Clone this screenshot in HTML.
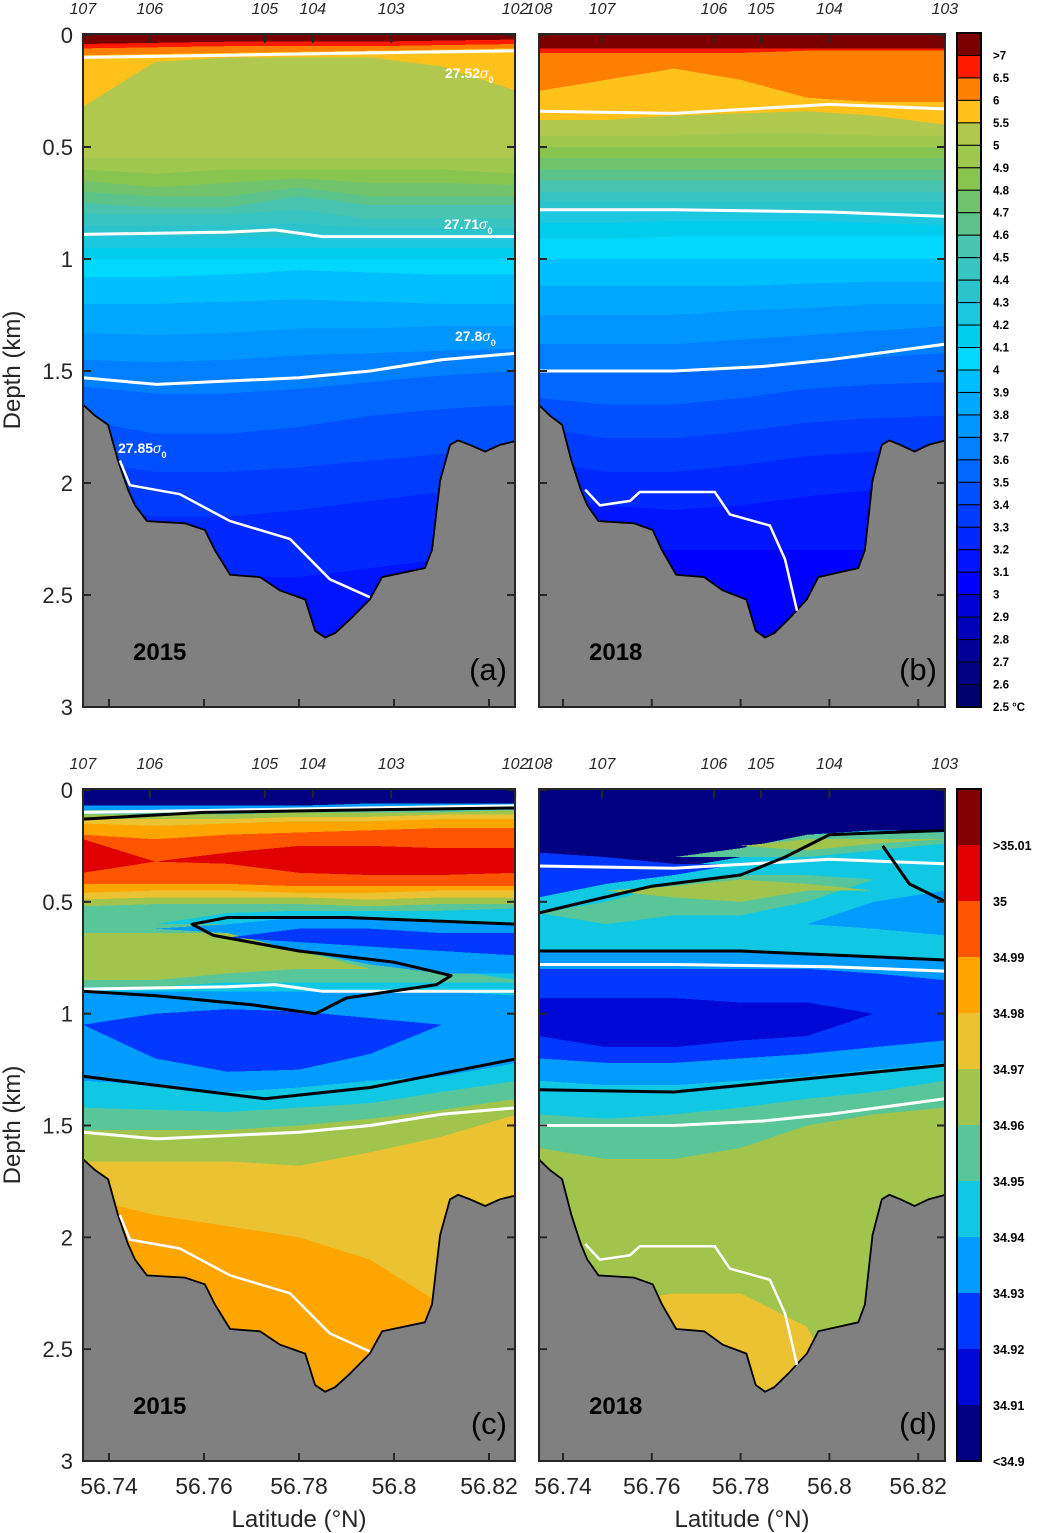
<!DOCTYPE html>
<html><head><meta charset="utf-8"><style>
html,body{margin:0;padding:0;background:#fff;}
svg{display:block;font-family:"Liberation Sans","DejaVu Sans",sans-serif;}
</style></head><body>
<svg id="fig" width="1045" height="1533" viewBox="0 0 1045 1533" xmlns="http://www.w3.org/2000/svg"></svg>
<script>
// ---------- data ----------
const nodeLats = [56.7345,56.7497,56.765,56.78,56.795,56.81,56.826];
const depthTicks = [0,0.5,1,1.5,2,2.5,3];
const depthTickLabels = ['0','0.5','1','1.5','2','2.5','3'];
const latTicks = [56.74,56.76,56.78,56.8,56.82];
const latTickLabels = ['56.74','56.76','56.78','56.8','56.82'];
const stations2015 = ['107','106','105','104','103','102'];
const stationLats2015 = [56.7345,56.7486,56.7728,56.7829,56.7994,56.8255];
const stations2018 = ['108','107','106','105','104','103'];
const stationLats2018 = [56.7346,56.7488,56.774,56.7846,56.80,56.826];
const bathyLats = [56.7345,56.7371,56.7398,56.7419,56.7440,56.7455,56.7480,56.7560,56.7602,56.7623,56.7655,56.7718,56.7760,56.7813,56.7834,56.7855,56.7876,56.7907,56.7949,56.7975,56.8065,56.8080,56.8097,56.8118,56.8135,56.8160,56.8192,56.8223,56.8262];
const bathyDepths = [1.65,1.70,1.74,1.90,2.03,2.10,2.17,2.18,2.21,2.30,2.41,2.42,2.48,2.52,2.66,2.69,2.67,2.61,2.52,2.42,2.38,2.30,1.99,1.83,1.81,1.83,1.86,1.83,1.81];
const tempColors = ['#7a0000','#ff1a00','#ff7f00','#ffc11a','#b0c84e','#9ec84e','#87c450','#72c46c','#5cc48a','#48c4b0','#38c4c0','#2cc4cc','#1cc8e0','#00cced','#00d8ff','#00bfff','#00a8ff','#0096ff','#0080ff','#0068ff','#0050ff','#003cff','#0028ff','#0014ff','#0000ff','#0000d8','#0000b8','#000098','#000080','#000070'];
const tempLabels = ['>7','6.5','6','5.5','5','4.9','4.8','4.7','4.6','4.5','4.4','4.3','4.2','4.1','4','3.9','3.8','3.7','3.6','3.5','3.4','3.3','3.2','3.1','3','2.9','2.8','2.7','2.6','2.5 °C'];
const salColors = ['#800000','#e00000','#ff5500','#ffa500','#ebc232','#a0c44c','#58c698','#10c8e4','#009cff','#0038ff','#0008d8','#000080'];
const salLabels = ['>35.01','35','34.99','34.98','34.97','34.96','34.95','34.94','34.93','34.92','34.91','<34.9'];
const isoA = [
[0.04,0.035,0.03,0.03,0.03,0.025,0.02],[0.06,0.055,0.05,0.05,0.05,0.045,0.04],[0.09,0.085,0.08,0.075,0.07,0.065,0.06],
[0.32,0.12,0.1,0.1,0.1,0.14,0.25],[0.55,0.55,0.55,0.55,0.55,0.55,0.55],[0.6,0.62,0.6,0.6,0.6,0.6,0.62],
[0.65,0.68,0.66,0.64,0.66,0.66,0.67],[0.7,0.72,0.72,0.68,0.72,0.72,0.72],[0.75,0.77,0.77,0.72,0.76,0.76,0.76],
[0.8,0.8,0.8,0.78,0.82,0.82,0.82],[0.85,0.85,0.85,0.84,0.86,0.86,0.86],[0.9,0.9,0.9,0.9,0.9,0.9,0.9],
[0.95,0.95,0.95,0.95,0.95,0.95,0.95],[1.0,1.0,1.0,1.0,1.0,1.0,1.0],[1.08,1.08,1.07,1.05,1.06,1.07,1.07],
[1.2,1.2,1.19,1.18,1.19,1.2,1.2],[1.33,1.34,1.33,1.31,1.31,1.3,1.3],[1.45,1.46,1.45,1.43,1.42,1.41,1.4],
[1.57,1.6,1.6,1.58,1.55,1.52,1.5],[1.72,1.78,1.78,1.75,1.7,1.67,1.65],[1.9,1.95,1.95,1.93,1.9,1.87,1.85],
[2.1,2.15,2.15,2.12,2.08,2.04,2.0],[2.3,2.4,2.42,2.42,2.38,2.34,2.3],[3,3,3,3,3,3,3]];
const isoB = [
[0.06,0.06,0.06,0.06,0.06,0.06,0.06],[0.08,0.08,0.08,0.08,0.07,0.07,0.07],[0.25,0.2,0.15,0.2,0.28,0.3,0.3],
[0.38,0.38,0.36,0.35,0.34,0.36,0.4],[0.45,0.45,0.45,0.44,0.44,0.45,0.45],[0.5,0.5,0.5,0.5,0.5,0.5,0.5],
[0.55,0.55,0.55,0.55,0.55,0.55,0.55],[0.6,0.6,0.6,0.6,0.6,0.6,0.6],[0.65,0.65,0.65,0.65,0.65,0.65,0.65],
[0.7,0.7,0.7,0.7,0.7,0.7,0.7],[0.74,0.74,0.74,0.74,0.74,0.74,0.74],[0.78,0.78,0.78,0.78,0.78,0.79,0.8],
[0.84,0.84,0.83,0.83,0.83,0.84,0.85],[0.91,0.91,0.9,0.9,0.9,0.9,0.9],[1.0,1.0,1.0,1.0,1.0,1.0,1.0],
[1.12,1.12,1.12,1.12,1.11,1.1,1.1],[1.25,1.25,1.25,1.23,1.22,1.2,1.2],[1.38,1.38,1.38,1.36,1.34,1.32,1.3],
[1.5,1.5,1.5,1.48,1.46,1.44,1.42],[1.62,1.65,1.65,1.62,1.58,1.56,1.55],[1.75,1.8,1.8,1.77,1.73,1.71,1.7],
[1.9,1.95,1.95,1.92,1.88,1.86,1.85],[2.05,2.1,2.12,2.1,2.06,2.03,2.0],[2.3,2.3,2.3,2.3,2.3,2.3,2.3],[3,3,3,3,3,3,3]];
const cBase = 4;
const cLevels = [11,8,6,5,4,3,2,1,3,4,5,6,7,6,5,8,9,8,9,7,6,5,3];
const cTops = [
[0,0,0,0,0,0,0],[0.07,0.07,0.07,0.07,0.06,0.06,0.06],[0.09,0.09,0.09,0.08,0.08,0.08,0.07],[0.11,0.11,0.11,0.1,0.1,0.1,0.09],
[0.13,0.13,0.13,0.12,0.12,0.11,0.11],[0.15,0.16,0.15,0.14,0.14,0.13,0.13],[0.2,0.22,0.2,0.19,0.18,0.17,0.17],
[0.22,0.32,0.28,0.25,0.25,0.26,0.26],[0.42,0.42,0.42,0.43,0.43,0.43,0.43],[0.46,0.45,0.45,0.46,0.46,0.45,0.45],
[0.49,0.48,0.48,0.48,0.49,0.48,0.48],[0.52,0.51,0.51,0.51,0.52,0.51,0.51],[0.6,0.6,0.55,0.54,0.54,0.54,0.53],
[0.6,0.6,0.6,0.68,0.75,0.8,0.85],[0.64,0.64,0.64,0.72,0.8,0.82,0.85],[0.62,0.62,0.6,0.57,0.58,0.59,0.6],
[0.66,0.66,0.66,0.62,0.62,0.64,0.64],[0.9,0.9,0.9,0.9,0.9,0.9,0.92],[1.05,1.0,0.98,0.99,1.02,1.05,1.05],
[1.3,1.32,1.35,1.33,1.3,1.28,1.22],[1.42,1.43,1.44,1.42,1.4,1.35,1.3],[1.52,1.52,1.52,1.5,1.47,1.43,1.38],
[1.82,1.9,1.95,2.0,2.1,2.3,2.6]];
const cBots = [
[0.07,0.07,0.07,0.07,0.06,0.06,0.06],[0.09,0.09,0.09,0.08,0.08,0.08,0.07],[0.11,0.11,0.11,0.1,0.1,0.1,0.09],
[0.13,0.13,0.13,0.12,0.12,0.11,0.11],[0.15,0.16,0.15,0.14,0.14,0.13,0.13],[0.2,0.22,0.2,0.19,0.18,0.17,0.17],
[0.42,0.42,0.42,0.43,0.43,0.43,0.43],[0.37,0.32,0.33,0.37,0.38,0.38,0.37],[0.46,0.45,0.45,0.46,0.46,0.45,0.45],
[0.49,0.48,0.48,0.48,0.49,0.48,0.48],[0.52,0.51,0.51,0.51,0.52,0.51,0.51],[0.6,0.6,0.55,0.54,0.54,0.54,0.53],
[0.9,0.9,0.9,0.9,0.9,0.9,0.92],[0.88,0.88,0.86,0.86,0.86,0.86,0.86],[0.85,0.85,0.82,0.8,0.8,0.82,0.85],
[0.62,0.62,0.64,0.72,0.78,0.82,0.82],[0.66,0.66,0.66,0.68,0.7,0.72,0.74],[1.3,1.32,1.35,1.33,1.3,1.28,1.22],
[1.05,1.2,1.26,1.25,1.18,1.05,1.05],[1.42,1.43,1.44,1.42,1.4,1.35,1.3],[1.52,1.52,1.52,1.5,1.47,1.43,1.38],
[1.66,1.66,1.66,1.68,1.62,1.55,1.45],[3,3,3,3,3,3,3]];
const dBase = 5;
const dLevels = [7,11,9,6,5,6,5,8,8,9,10,8,7,6,4];
const dTops = [
[0.3,0.3,0.3,0.3,0.2,0.18,0.18],[0,0,0,0,0,0,0],[0.28,0.3,0.33,0.33,0.33,0.33,0.33],[0.3,0.3,0.3,0.26,0.2,0.19,0.19],
[0.25,0.25,0.25,0.25,0.22,0.22,0.22],[0.55,0.5,0.42,0.38,0.38,0.4,0.4],[0.45,0.45,0.43,0.4,0.42,0.45,0.45],
[0.6,0.6,0.6,0.6,0.6,0.5,0.45],[0.72,0.72,0.72,0.72,0.73,0.74,0.76],[0.8,0.8,0.8,0.8,0.8,0.82,0.85],
[0.93,0.93,0.93,0.95,0.95,1.0,1.0],[1.2,1.22,1.22,1.2,1.18,1.15,1.12],[1.3,1.32,1.32,1.3,1.28,1.25,1.22],
[1.45,1.47,1.45,1.42,1.38,1.35,1.3],[2.5,2.3,2.25,2.25,2.4,3,3]];
const dBots = [
[0.72,0.72,0.72,0.72,0.73,0.74,0.76],[0.3,0.33,0.35,0.3,0.2,0.18,0.18],[0.48,0.42,0.38,0.33,0.33,0.33,0.33],[0.3,0.3,0.3,0.3,0.3,0.27,0.24],
[0.25,0.25,0.25,0.25,0.27,0.24,0.22],[0.55,0.6,0.56,0.56,0.5,0.4,0.4],[0.45,0.45,0.48,0.5,0.45,0.45,0.45],
[0.6,0.6,0.6,0.6,0.6,0.62,0.65],[0.8,0.8,0.8,0.8,0.8,0.82,0.85],[1.2,1.22,1.22,1.2,1.18,1.15,1.12],
[1.1,1.15,1.15,1.12,1.1,1.0,1.0],[1.3,1.32,1.32,1.3,1.28,1.25,1.22],[1.45,1.47,1.45,1.42,1.38,1.35,1.3],
[1.6,1.65,1.65,1.6,1.5,1.45,1.42],[3,3,3,3,3,3,3]];
const iso2015Lats = [[56.7345,56.765,56.795,56.8262],[56.7345,56.765,56.775,56.785,56.8262],[56.7345,56.75,56.78,56.795,56.81,56.8262]];
const iso2015Depths = [[0.1,0.09,0.08,0.07],[0.89,0.88,0.87,0.9,0.9],[1.53,1.56,1.53,1.5,1.45,1.42]];
const deep2015Lats = [56.7423,56.7444,56.7549,56.7655,56.7781,56.7865,56.7949];
const deep2015Depths = [1.9,2.01,2.05,2.17,2.25,2.43,2.51];
const iso2018Lats = [[56.7345,56.765,56.80,56.8262],[56.7345,56.765,56.80,56.8262],[56.7345,56.765,56.785,56.80,56.8262]];
const iso2018Depths = [[0.34,0.35,0.31,0.33],[0.78,0.78,0.79,0.81],[1.5,1.5,1.48,1.45,1.38]];
const deep2018Lats = [56.745,56.7483,56.7551,56.7573,56.7742,56.7776,56.7866,56.79,56.7927];
const deep2018Depths = [2.03,2.1,2.08,2.04,2.04,2.14,2.19,2.34,2.57];
const blackCLats = [[56.7345,56.76,56.79,56.8262],
 [56.8262,56.79,56.765,56.7575,56.762,56.78,56.80,56.812,56.809,56.79,56.7835,56.77,56.75,56.7345],
 [56.7345,56.7728,56.795,56.8262]];
const blackCDepths = [[0.13,0.1,0.09,0.08],[0.6,0.57,0.57,0.6,0.65,0.72,0.77,0.83,0.87,0.93,1.0,0.96,0.92,0.9],[1.28,1.38,1.33,1.2]];
const blackDLats = [[56.7345,56.745,56.76,56.78,56.79,56.80,56.8262],[56.812,56.818,56.8262],[56.7345,56.78,56.8262],[56.7345,56.765,56.8262]];
const blackDDepths = [[0.55,0.5,0.43,0.38,0.3,0.2,0.18],[0.25,0.42,0.5],[0.72,0.72,0.76],[1.34,1.35,1.23]];
const yearLabels = ['2015','2018','2015','2018'];
const panelLetters = ['(a)','(b)','(c)','(d)'];

// ---------- helpers ----------
const NS='http://www.w3.org/2000/svg';
const svg=document.getElementById('fig');
function mk(tag,attrs,parent){const e=document.createElementNS(NS,tag);for(const k in attrs)e.setAttribute(k,attrs[k]);(parent||svg).appendChild(e);return e;}
const panels=[
 {key:'a',x0:83,x1:515,y0:35,y1:707,lat0:56.74,px0:109,scale:4750},
 {key:'b',x0:539,x1:945,y0:35,y1:707,lat0:56.74,px0:563,scale:4440},
 {key:'c',x0:83,x1:515,y0:790,y1:1461,lat0:56.74,px0:109,scale:4750},
 {key:'d',x0:539,x1:945,y0:790,y1:1461,lat0:56.74,px0:563,scale:4440}];
function xs(p,lat){return p.px0+(lat-p.lat0)*p.scale;}
function ys(p,d){return p.y0+d*(p.y1-p.y0)/3;}
function bandPath(p,top,bot){let s='';for(let i=0;i<nodeLats.length;i++){s+=(i?'L':'M')+xs(p,nodeLats[i]).toFixed(1)+','+ys(p,top[i]).toFixed(1);}
 for(let i=nodeLats.length-1;i>=0;i--){s+='L'+xs(p,nodeLats[i]).toFixed(1)+','+ys(p,bot[i]).toFixed(1);}return s+'Z';}
function linePath(p,lats,deps){return lats.map((l,i)=>(i?'L':'M')+xs(p,l).toFixed(1)+','+ys(p,deps[i]).toFixed(1)).join('');}
const zeros=nodeLats.map(()=>0);

const defs=mk('defs',{});
panels.forEach(p=>{const cp=mk('clipPath',{id:'clip-'+p.key},defs);mk('rect',{x:p.x0,y:p.y0,width:p.x1-p.x0,height:p.y1-p.y0},cp);});

panels.forEach((p,pi)=>{
 const g=mk('g',{'clip-path':'url(#clip-'+p.key+')','shape-rendering':'crispEdges'});
 
 
 if(p.key==='a'||p.key==='b'){
  const iso=p.key==='a'?isoA:isoB;
  for(let i=0;i<iso.length;i++){
   const el=mk('path',{d:bandPath(p,i?iso[i-1]:zeros,iso[i]),fill:tempColors[i]},g);
   
   
  }
 } else {
  const base=p.key==='c'?cBase:dBase, lv=p.key==='c'?cLevels:dLevels, tp=p.key==='c'?cTops:dTops, bt=p.key==='c'?cBots:dBots;
  const b=mk('rect',{x:p.x0,y:p.y0,width:p.x1-p.x0,height:p.y1-p.y0,fill:salColors[base]},g);
  
  
  for(let i=0;i<lv.length;i++){
   const el=mk('path',{d:bandPath(p,tp[i],bt[i]),fill:salColors[lv[i]]},g);
   
   
  }
 }
 const g2=mk('g',{'clip-path':'url(#clip-'+p.key+')'});
 
 
 let s='M'+xs(p,bathyLats[0])+','+ys(p,bathyDepths[0]);
 for(let i=1;i<bathyLats.length;i++) s+='L'+xs(p,bathyLats[i]).toFixed(1)+','+ys(p,bathyDepths[i]).toFixed(1);
 s+='L'+xs(p,bathyLats[bathyLats.length-1])+','+ys(p,3.1)+'L'+xs(p,bathyLats[0])+','+ys(p,3.1)+'Z';
 const bt=mk('path',{d:s,fill:'#808080',stroke:'#000','stroke-width':1.8},g2);
 
 
 const early=(p.key==='a'||p.key==='c');
 const L=early?iso2015Lats:iso2018Lats, D=early?iso2015Depths:iso2018Depths;
 for(let i=0;i<L.length;i++){const w=mk('path',{d:linePath(p,L[i],D[i]),fill:'none',stroke:'#fff','stroke-width':3},g2);
  
  }
 const dw=mk('path',{d:linePath(p,early?deep2015Lats:deep2018Lats,early?deep2015Depths:deep2018Depths),fill:'none',stroke:'#fff','stroke-width':2.5},g2);
 
 
 if(p.key==='c'||p.key==='d'){
  const BL=p.key==='c'?blackCLats:blackDLats, BD=p.key==='c'?blackCDepths:blackDDepths;
  for(let i=0;i<BL.length;i++){const k=mk('path',{d:linePath(p,BL[i],BD[i]),fill:'none',stroke:'#000','stroke-width':3,'stroke-linejoin':'round'},g2);
   
   }
 }
 const fr=mk('rect',{x:p.x0,y:p.y0-1,width:p.x1-p.x0,height:p.y1-p.y0+1,fill:'none',stroke:'#262626','stroke-width':2});
 
 
 depthTicks.forEach((d,i)=>{
  mk('line',{x1:p.x0,x2:p.x0+8,y1:ys(p,d),y2:ys(p,d),stroke:'#262626','stroke-width':2});
  mk('line',{x1:p.x1-8,x2:p.x1,y1:ys(p,d),y2:ys(p,d),stroke:'#262626','stroke-width':2});
  if(p.key==='a'||p.key==='c'){const t=mk('text',{x:p.x0-10,y:ys(p,d)+8,'text-anchor':'end','font-size':22,fill:'#262626'});
   t.textContent=depthTickLabels[i];
   
   }
 });
 latTicks.forEach((l,i)=>{
  mk('line',{x1:xs(p,l),x2:xs(p,l),y1:p.y1,y2:p.y1-8,stroke:'#262626','stroke-width':2});
  if(p.key==='c'||p.key==='d'){const t=mk('text',{x:xs(p,l),y:p.y1+33,'text-anchor':'middle','font-size':23,fill:'#262626'});
   t.textContent=latTickLabels[i];
   
   }
 });
 const SL=early?stationLats2015:stationLats2018, SN=early?stations2015:stations2018;
 SL.forEach((l,i)=>{
  mk('line',{x1:xs(p,l),x2:xs(p,l),y1:p.y0,y2:p.y0+8,stroke:'#262626','stroke-width':2});
  const t=mk('text',{x:xs(p,l),y:p.y0-21,'text-anchor':'middle','font-size':16,'font-style':'italic',fill:'#262626'});
  t.textContent=SN[i];
  
  
 });
 const yr=mk('text',{x:p.x0+50,y:p.y1-47,'font-size':24,'font-weight':'bold',fill:'#000'});
 yr.textContent=yearLabels[pi];
 
 
 const lt=mk('text',{x:p.x1-8,y:p.y1-27,'text-anchor':'end','font-size':31,fill:'#000'});
 lt.textContent=panelLetters[pi];
 
 
});

[['27.52',445,78],['27.71',444,229],['27.8',455,341],['27.85',118,453]].forEach(a=>{
 const t=mk('text',{x:a[1],y:a[2],'font-size':14,'font-weight':'bold',fill:'#fff'});
 t.textContent=a[0];
 const s=mk('tspan',{'font-style':'italic','font-weight':'normal'},t);s.textContent='σ';
 const s2=mk('tspan',{'font-size':9,dy:5},t);s2.textContent='0';
 
 
});

[[370],[1125]].forEach(a=>{const t=mk('text',{x:0,y:0,transform:'translate(20,'+a[0]+') rotate(-90)','text-anchor':'middle','font-size':24,fill:'#262626'});
 t.textContent='Depth (km)';
 
 });
[[299],[742]].forEach(a=>{const t=mk('text',{x:a[0],y:1527,'text-anchor':'middle','font-size':24,fill:'#262626'});
 t.textContent='Latitude (°N)';
 
 });

const tcb=mk('g',{});


const th=(707-33)/tempColors.length;
tempColors.forEach((c,i)=>{mk('rect',{x:957,y:33+i*th,width:24,height:th,fill:c,stroke:'#000','stroke-width':1},tcb);
 const t=mk('text',{x:993,y:33+(i+1)*th+4,'font-size':11.5,'font-weight':'bold',fill:'#000'},tcb);
 t.textContent=tempLabels[i];
 
 });
mk('rect',{x:957,y:33,width:24,height:674,fill:'none',stroke:'#000','stroke-width':2},tcb);
const scb=mk('g',{});


const sh=(1461-789)/salColors.length;
salColors.forEach((c,i)=>{mk('rect',{x:957,y:789+i*sh,width:24,height:sh,fill:c},scb);
 const t=mk('text',{x:993,y:789+(i+1)*sh+5,'font-size':12.5,'font-weight':'bold',fill:'#000'},scb);
 t.textContent=salLabels[i];
 
 });
mk('rect',{x:957,y:789,width:24,height:672,fill:'none',stroke:'#000','stroke-width':2},scb);
</script>
</body></html>
